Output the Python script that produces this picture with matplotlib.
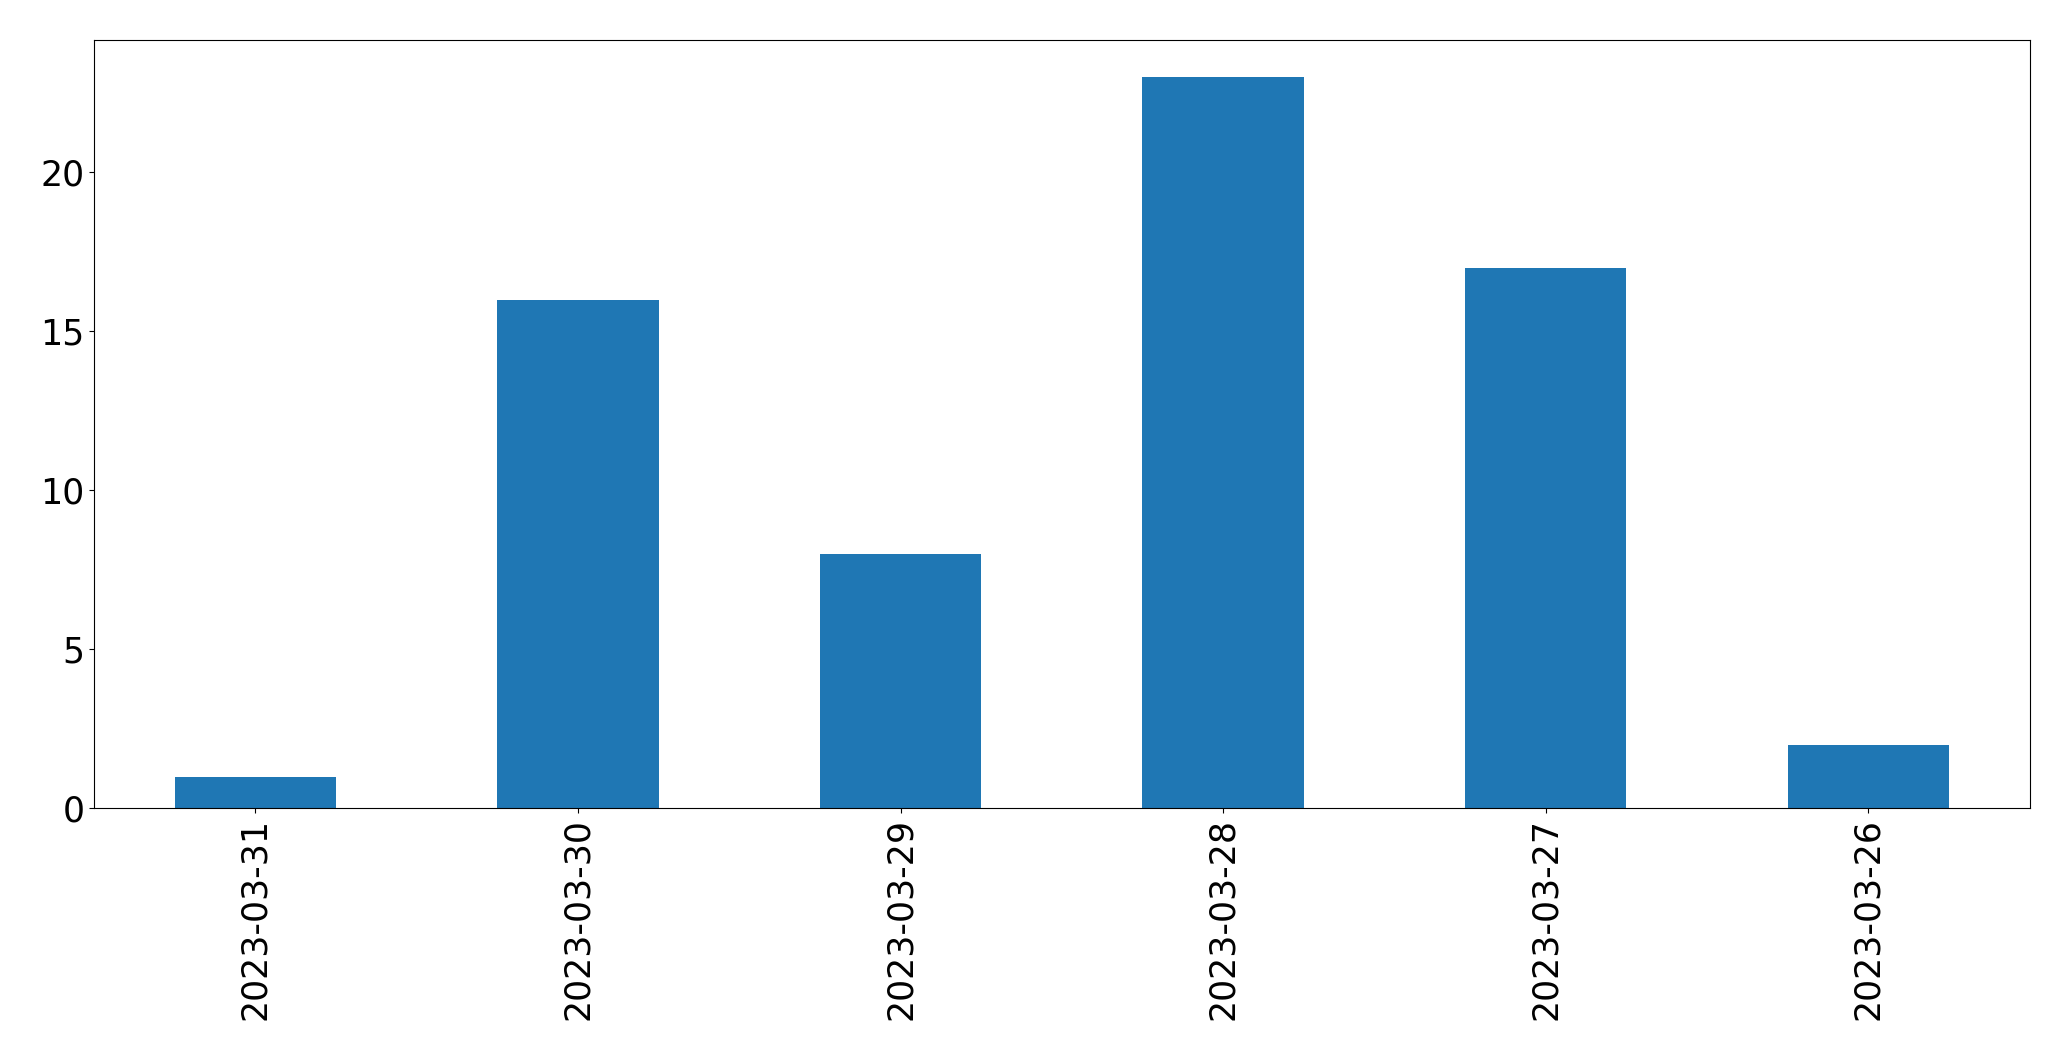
import matplotlib
matplotlib.use("Agg")
import matplotlib.pyplot as plt
import numpy as np

# daily counts, newest first
dates = ["2023-03-31", "2023-03-30", "2023-03-29", "2023-03-28", "2023-03-27", "2023-03-26"]
counts = [1, 16, 8, 23, 17, 2]

fig, ax = plt.subplots(figsize=(20.71, 10.61), dpi=100)
fig.subplots_adjust(left=0.0454, right=0.980, top=0.962, bottom=0.238)

x = np.arange(len(dates))
ax.bar(x, counts, width=0.5, color="#1f77b4")
ax.set_xlim(-0.5, len(dates) - 0.5)
ax.set_xticks(x)
ax.set_xticklabels(dates, rotation=90)
ax.tick_params(axis="both", labelsize=25)

fig.savefig("out.png", dpi=100)
